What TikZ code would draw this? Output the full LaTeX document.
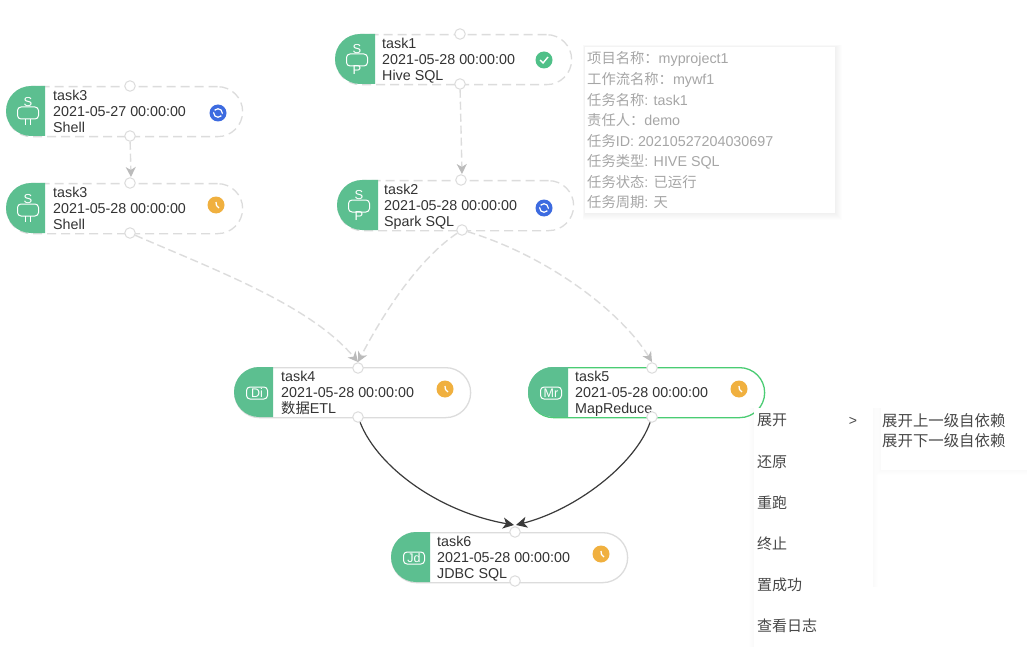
\documentclass[tikz,border=0pt]{standalone}
\usepackage{fontspec}
\setmainfont{Liberation Sans}
\newfontfamily\cjk{Noto Sans CJK SC}
\usetikzlibrary{arrows.meta}
\definecolor{nodegreen}{HTML}{5CBF90}
\definecolor{lineGray}{HTML}{DCDCDC}
\definecolor{borderGray}{HTML}{DCDCDC}
\definecolor{inkdark}{HTML}{333333}
\definecolor{edgedark}{HTML}{3A3A3A}
\definecolor{tipgray}{HTML}{A6A6A6}
\definecolor{stblue}{HTML}{3D6BE0}
\definecolor{storange}{HTML}{F0B03F}
\definecolor{stgreen}{HTML}{4FC088}
\definecolor{menuink}{HTML}{484848}
\tikzset{
  taskbody/.style={draw=borderGray,line width=1.3pt,fill=white,rounded corners=25pt,
    minimum height=50pt,anchor=north west,inner sep=0pt},
  dashbody/.style={taskbody,dash pattern=on 9pt off 5pt},
  activebody/.style={taskbody,draw=nodegreen!80!green},
  tasktext/.style={anchor=west,align=left,inner sep=0pt,text=inkdark,font=\fontsize{14.3}{16}\selectfont},
  portdot/.style={circle,draw=borderGray,fill=white,line width=1pt,minimum size=10.5pt,inner sep=0pt},
  softedge/.style={draw=lineGray,line width=1.4pt,dash pattern=on 8pt off 4pt,
    -{Stealth[length=10pt,width=10pt,inset=3pt,color=lineGray!85!black]}},
  hardedge/.style={draw=edgedark,line width=1.2pt,
    -{Stealth[length=11pt,width=11pt,inset=3pt]}},
  statdot/.style={circle,minimum size=17pt,inner sep=0pt},
  iconbox/.style={draw=white,line width=1pt,rounded corners=3.5pt,minimum width=21pt,minimum height=12pt,inner sep=0pt},
  iconletter/.style={text=white,inner sep=0pt,font=\fontsize{13}{14}\selectfont},
  tiptext/.style={anchor=west,inner sep=0pt,text=tipgray,font=\fontsize{14.3}{16}\selectfont},
  menutext/.style={anchor=west,inner sep=0pt,text=menuink,font=\fontsize{15}{17}\cjk},
  submenutext/.style={anchor=west,inner sep=0pt,text=menuink,font=\fontsize{15.4}{17}\cjk},
  softpanel/.style={fill=black,opacity=0.005,draw=none},
}
% id, left, top, green right edge, text x, style, icon-drawing code, text
\newcommand{\tasknode}[8]{%
  \node[#6,minimum width=236pt] (#1) at (#2,#3) {};
  \begin{scope}
    \clip (#2,#3-1) rectangle (#4,#3+51);
    \fill[nodegreen,rounded corners=25pt] (#2,#3) rectangle (#2+80,#3+50);
  \end{scope}
  \node[tasktext] (#1text) at (#5,#3+27.6) {#8\strut};
  \begin{scope}[shift={(#2+22,#3+25)}] #7 \end{scope}
}
\newcommand{\iconSP}[1]{%
  \node[iconbox] (ib#1) at (0,1) {};
  \node[iconletter] (is#1) at (0,-10) {S};
  \node[iconletter] (ip#1) at (0,11) {P};
}
\newcommand{\iconST}[1]{%
  \node[iconbox] (ib#1) at (0,2) {};
  \node[iconletter] (is#1) at (0,-9) {S};
  \draw[white,line width=1pt] (-2.5,8) -- (-2.5,14) (2.5,8) -- (2.5,14);
}
\newcommand{\iconBX}[2]{%
  \node[iconbox,text=white,font=\fontsize{12.5}{13}\selectfont] (ib#1) at (1,1) {#2};
}
\newcommand{\statClock}[3]{%
  \node[statdot,fill=storange] (#1) at (#2,#3) {};
  \draw[white,line width=1.3pt] (#2,#3-3) -- (#2+.5,#3+.5) -- (#2+3,#3+3);
}
\newcommand{\statSpin}[3]{%
  \node[statdot,fill=stblue] (#1) at (#2,#3) {};
  \node[circle,draw=white,line width=1.2pt,minimum size=8.5pt,inner sep=0pt] (#1r) at (#2,#3) {};
  \draw[stblue,line width=1.6pt] (#2-5,#3-3) -- (#2-1,#3+1) (#2+1,#3-1) -- (#2+5,#3+3);
}
\newcommand{\statOk}[3]{%
  \node[statdot,fill=stgreen] (#1) at (#2,#3) {};
  \draw[white,line width=1.4pt] (#2-4,#3) -- (#2-1,#3+3) -- (#2+4,#3-3);
}
\begin{document}
\begin{tikzpicture}[x=1pt,y=-1pt]
\useasboundingbox (0,0) rectangle (1027,647);
\fill[white] (0,0) rectangle (1027,647);

% task nodes
\tasknode{tA}{6}{86}{45}{53}{dashbody}{\iconST{A}}{task3\\2021-05-27 00:00:00\\Shell}
\tasknode{tB}{6}{183}{45}{53}{dashbody}{\iconST{B}}{task3\\2021-05-28 00:00:00\\Shell}
\tasknode{tC}{335}{34}{375}{382}{dashbody}{\iconSP{C}}{task1\\2021-05-28 00:00:00\\Hive SQL}
\tasknode{tD}{337}{180}{378}{384}{dashbody}{\iconSP{D}}{task2\\2021-05-28 00:00:00\\Spark SQL}
\tasknode{tE}{234}{367}{273}{281}{taskbody}{\iconBX{E}{Di}}{task4\\2021-05-28 00:00:00\\{\cjk 数据}ETL}
\tasknode{tF}{528}{367}{568}{575}{activebody}{\iconBX{F}{Mr}}{task5\\2021-05-28 00:00:00\\MapReduce}
\tasknode{tG}{391}{532}{430}{437}{taskbody}{\iconBX{G}{Jd}}{task6\\2021-05-28 00:00:00\\JDBC SQL}

% status marks
\statSpin{sA}{218}{113}
\statClock{sB}{216}{205}
\statOk{sC}{544}{60}
\statSpin{sD}{544}{208}
\statClock{sE}{445}{389}
\statClock{sF}{739}{389}
\statClock{sG}{601}{554}

% ports
\node[portdot] (pAt) at (130,86) {};
\node[portdot] (pAb) at (130,136) {};
\node[portdot] (pBt) at (130,183) {};
\node[portdot] (pBb) at (130,233) {};
\node[portdot] (pCt) at (460,34) {};
\node[portdot] (pCb) at (460,84) {};
\node[portdot] (pDt) at (461,180) {};
\node[portdot] (pDb) at (462,230) {};
\node[portdot] (pEt) at (358,368) {};
\node[portdot] (pEb) at (358,417) {};
\node[portdot] (pFt) at (652,368) {};
\node[portdot] (pFb) at (652,417) {};
\node[portdot] (pGt) at (515,532) {};
\node[portdot] (pGb) at (515,581) {};

% arrow end points, just above the target ports
\coordinate (inB) at (131,177);
\coordinate (inD) at (462,174);
\coordinate (inE) at (358,362);
\coordinate (inF) at (652,362);
\coordinate (inGl) at (514,525);
\coordinate (inGr) at (516,525);

% connectors
\draw[softedge] (pAb) -- (inB);
\draw[softedge] (pCb) -- (inD);
\draw[softedge] (pBb) .. controls (215,270) and (310,305) .. (inE);
\draw[softedge] (pDb) .. controls (420,258) and (385,310) .. (inE);
\draw[softedge] (pDb) .. controls (545,255) and (620,310) .. (inF);
\draw[hardedge] (pEb) .. controls (378,468) and (440,512) .. (inGl);
\draw[hardedge] (pFb) .. controls (635,465) and (575,510) .. (inGr);

% tooltip
\foreach \g in {7,6,5,4,3,2,1} {
  \fill[black,opacity=0.008] (585-\g/3,47-\g/3) rectangle (835+\g,213+\g);
}
\node[draw=none,fill=white,minimum width=250pt,minimum height=166pt,anchor=north west,inner sep=0pt] (tip) at (585,47) {};
\node[tiptext] (tip1) at (587,59) {{\cjk 项目名称：}myproject1};
\node[tiptext] (tip2) at (587,79.5) {{\cjk 工作流名称：}mywf1};
\node[tiptext] (tip3) at (587,100) {{\cjk 任务名称}: task1};
\node[tiptext] (tip4) at (587,120.5) {{\cjk 责任人：}demo};
\node[tiptext] (tip5) at (587,141) {{\cjk 任务}ID: 20210527204030697};
\node[tiptext] (tip6) at (587,161.5) {{\cjk 任务类型}: HIVE SQL};
\node[tiptext] (tip7) at (587,182) {{\cjk 任务状态}: {\cjk 已运行}};
\node[tiptext] (tip8) at (587,202.5) {{\cjk 任务周期}: {\cjk 天}};

% context menu
\foreach \g in {5,4,3,2,1} {
  \fill[softpanel] (754-\g,408) rectangle (873+\g,587);
  \fill[softpanel] (754-\g,587) rectangle (754,647);
  \fill[softpanel] (881-\g,408) rectangle (1027,470+\g);
}
\fill[white] (754,408) rectangle (873,647);
\fill[white] (873,587) rectangle (1027,647);
\fill[white] (881,408) rectangle (1027,470);
\node[menutext] (m1) at (757,420.5) {展开};
\node[anchor=center,inner sep=0pt,text=menuink,font=\fontsize{14}{16}\selectfont] (marrow) at (853,421) {>};
\node[menutext] (m2) at (757,461.5) {还原};
\node[menutext] (m3) at (757,502.5) {重跑};
\node[menutext] (m4) at (757,543.5) {终止};
\node[menutext] (m5) at (757,584.5) {置成功};
\node[menutext] (m6) at (757,625.5) {查看日志};
\node[submenutext] (s1) at (882,420.5) {展开上一级自依赖};
\node[submenutext] (s2) at (882,440.5) {展开下一级自依赖};
\end{tikzpicture}
\end{document}
